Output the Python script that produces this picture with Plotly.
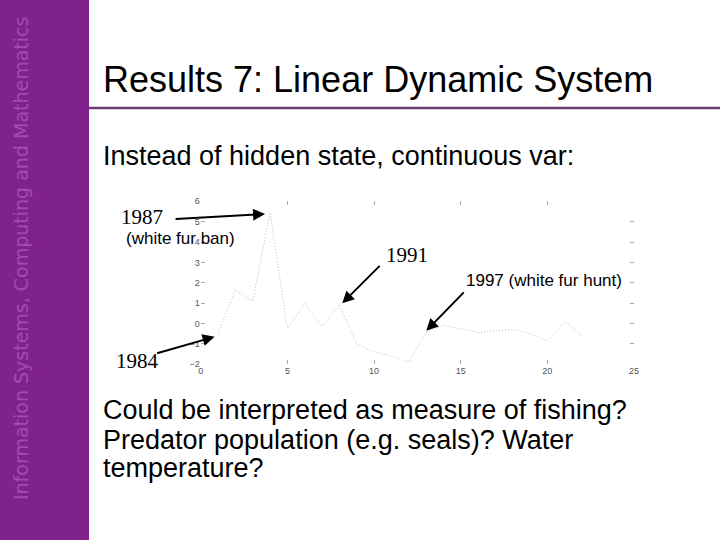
import plotly.graph_objects as go

# ---- data ----
t_index = list(range(1, 23))
state_value = [-0.5, 1.65, 1.1, 5.45, -0.25, 1.0, -0.15, 0.9, -1.0, -1.4, -1.6,
               -1.9, -0.45, -0.1, -0.25, -0.45, -0.35, -0.3, -0.5, -0.85, 0.1, -0.6]
x_ticks = [0, 5, 10, 15, 20, 25]
y_ticks = [-2, -1, 0, 1, 2, 3, 4, 5, 6]

W, H = 720, 540
def px(x):
    return x / W
def py(y):
    return 1 - y / H

fig = go.Figure()
fig.add_trace(go.Scatter(
    x=t_index, y=state_value, mode="lines",
    line=dict(color="#bdbdbd", width=1, dash="1px,2px"),
    showlegend=False, hoverinfo="skip"))

axis_font = dict(family="Liberation Sans, Arial, sans-serif", size=9, color="#555555")
fig.update_layout(
    width=W, height=H,
    margin=dict(l=0, r=0, t=0, b=0, pad=0),
    paper_bgcolor="white", plot_bgcolor="white",
    xaxis=dict(domain=[px(200), px(638)], range=[0, 25], tickvals=x_ticks,
               ticks="inside", ticklen=4, tickcolor="#aaaaaa", mirror="ticks",
               showline=False, showgrid=False, zeroline=False, tickfont=axis_font),
    yaxis=dict(domain=[py(366), py(200)], range=[-2, 6], tickvals=y_ticks,
               ticks="inside", ticklen=4, tickcolor="#aaaaaa", mirror="ticks",
               showline=False, showgrid=False, zeroline=False, tickfont=axis_font),
)

# slide decoration
fig.add_shape(type="rect", xref="paper", yref="paper", x0=-0.05, x1=px(87), y0=-0.05, y1=1.05,
              fillcolor="#80228c", line=dict(width=0), layer="below")
fig.add_shape(type="line", xref="paper", yref="paper", x0=px(87), x1=1.05, y0=py(105), y1=py(105),
              line=dict(color="#6b3b72", width=2.5))

sans = "Liberation Sans, Arial, sans-serif"
serif = "Liberation Serif, Times New Roman, serif"

def text(s, x, y, size, family=sans, color="black", xanchor="left", angle=0):
    fig.add_annotation(text=s, xref="paper", yref="paper", x=px(x), y=py(y),
                       xanchor=xanchor, yanchor="middle", showarrow=False,
                       textangle=angle, font=dict(family=family, size=size, color=color))

text("Information Systems, Computing and Mathematics", 18, 258, 19,
     family="DejaVu Sans, Verdana, sans-serif", color="#a04cae", xanchor="center", angle=-90)
text("Results 7: Linear Dynamic System", 99, 76, 36)
text("Instead of hidden state, continuous var:", 99, 154, 27)
text("Could be interpreted as measure of fishing?", 99, 413, 27)
text("Predator population (e.g. seals)? Water", 99, 443, 27)
text("temperature?", 99, 472, 27)

# chart annotations
text("1987", 117, 216, 21, family=serif)
text("(white fur ban)", 122, 238, 17)
text("1984", 112, 363, 21, family=serif)
text("1991", 385, 255, 21, family=serif)
text("1997 (white fur hunt)", 466, 281, 17)

def arrow(tail, tip):
    fig.add_annotation(text="", xref="paper", yref="paper", x=px(tip[0]), y=py(tip[1]),
                       axref="pixel", ayref="pixel", ax=tail[0] - tip[0], ay=tail[1] - tip[1],
                       showarrow=True, arrowhead=2, arrowsize=1.2, arrowwidth=2,
                       arrowcolor="black", standoff=0, startstandoff=0)

arrow((174, 218), (265, 213))
arrow((155, 355), (214, 338))
arrow((382, 265), (343, 304))
arrow((467, 292), (428, 332))

fig.write_html(
    "out.html",
    config={"displayModeBar": False},
    post_script=(
        "document.documentElement.style.margin='0';"
        "document.body.style.margin='0';document.body.style.padding='0';"
        "document.body.style.overflow='hidden';"
        "var d=document.getElementById('{plot_id}');"
        "d.style.position='absolute';d.style.left='0px';d.style.top='0px';"
    ),
)
